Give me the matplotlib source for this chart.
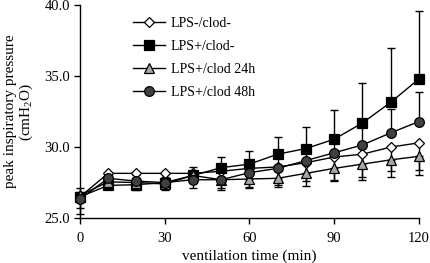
import matplotlib
matplotlib.use("Agg")
import matplotlib.pyplot as plt
import numpy as np

plt.rcParams['font.family'] = ['Liberation Serif', 'DejaVu Serif']
plt.rcParams['mathtext.fontset'] = 'custom'
plt.rcParams['mathtext.rm'] = 'Liberation Serif'

time_min = [0, 10, 20, 30, 40, 50, 60, 70, 80, 90, 100, 110, 120]

# LPS-/clod- (open diamond), error bars downward
ctrl = [26.5, 28.15, 28.15, 28.15, 28.15, 28.3, 28.5, 28.6, 28.9, 29.3, 29.5, 30.0, 30.3]
ctrl_err = [1.2, 0.6, 0.6, 0.6, 0.6, 1.2, 1.3, 1.3, 1.3, 1.6, 1.6, 1.7, 1.9]

# LPS+/clod- (black square), error bars upward
lps = [26.5, 27.3, 27.35, 27.5, 28.0, 28.55, 28.8, 29.5, 29.9, 30.55, 31.7, 33.15, 34.8]
lps_err = [0.65, 0.4, 0.4, 0.3, 0.6, 0.75, 0.95, 1.2, 1.5, 2.05, 2.8, 3.85, 4.8]

# LPS+/clod 24h (grey triangle), error bars downward
c24 = [26.6, 27.55, 27.5, 27.4, 28.0, 27.7, 27.75, 27.8, 28.15, 28.5, 28.8, 29.1, 29.35]
c24_err = [0.9, 0.5, 0.5, 0.45, 0.9, 0.7, 0.6, 0.6, 0.9, 0.9, 1.1, 1.2, 1.3]

# LPS+/clod 48h (dark grey circle), error bars upward
c48 = [26.35, 27.8, 27.6, 27.5, 27.7, 27.7, 28.2, 28.5, 29.05, 29.6, 30.15, 31.0, 31.8]
c48_err = [0.5, 0.4, 0.4, 0.4, 0.5, 0.6, 0.7, 0.8, 1.0, 1.2, 1.4, 1.7, 2.05]

labels = ['LPS-/clod-', 'LPS+/clod-', 'LPS+/clod 24h', 'LPS+/clod 48h']

fig = plt.figure(figsize=(4.3, 2.63), dpi=100)
ax = fig.add_axes([0.186, 0.171, 0.788, 0.809])

series = [
    (ctrl, ctrl_err, 'down', 'D', 'white', 5.5),
    (lps, lps_err, 'up', 's', 'black', 6.5),
    (c24, c24_err, 'down', '^', '#a6a6a6', 7),
    (c48, c48_err, 'up', 'o', '#404040', 7),
]

for i, (vals, err, side, mk, fc, ms) in enumerate(series):
    vals = np.array(vals)
    err = np.array(err)
    if side == 'up':
        yerr = [np.zeros_like(err), err]
    else:
        yerr = [err, np.zeros_like(err)]
    ax.errorbar(time_min, vals, yerr=yerr, fmt='none', ecolor='black',
                elinewidth=1, capsize=3, capthick=1, clip_on=False, zorder=2)
    ax.plot(time_min, vals, color='black', lw=1, marker=mk, markersize=ms,
            markerfacecolor=fc, markeredgecolor='black', markeredgewidth=0.9,
            label=labels[i], clip_on=False, zorder=3 + i)

ax.set_xlim(0, 120)
ax.set_ylim(25, 40)
ax.set_xticks([0, 30, 60, 90, 120])
ax.set_yticks([25, 30, 35, 40])
ax.set_yticklabels(['25.0', '30.0', '35.0', '40.0'])
ax.tick_params(direction='out', length=4, width=1, labelsize=10.5)
ax.tick_params(axis='x', pad=6)
ax.tick_params(axis='y', pad=3)
for s in ['top', 'right']:
    ax.spines[s].set_visible(False)
for s in ['left', 'bottom']:
    ax.spines[s].set_linewidth(1)

ax.set_xlabel('ventilation time (min)', fontsize=11, labelpad=3)
ax.set_ylabel('peak inspiratory pressure\n(cmH$_2$O)', fontsize=11, labelpad=7,
              linespacing=1.0)

ax.legend(loc='upper left', bbox_to_anchor=(0.12, 1.005), frameon=False,
          fontsize=10, handlelength=2.3, labelspacing=0.73, handletextpad=0.4)

fig.savefig('out.png', dpi=100)
